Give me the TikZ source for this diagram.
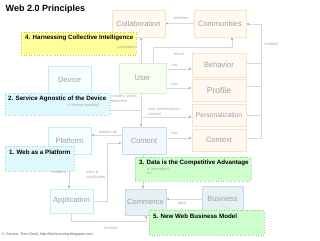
\documentclass[tikz,border=0pt]{standalone}
\usepackage{fontspec}
\setmainfont{Liberation Sans}
\usetikzlibrary{arrows.meta}
\definecolor{boxtext}{HTML}{A0A0A0}
\definecolor{orgfill}{HTML}{FFF9F2}
\definecolor{orgdraw}{HTML}{FBE0C4}
\definecolor{grnfill}{HTML}{F6FFF2}
\definecolor{grndraw}{HTML}{DCEFD4}
\definecolor{cyfill}{HTML}{F5FFFF}
\definecolor{cydraw}{HTML}{C5ECEF}
\definecolor{blfill}{HTML}{F2F8FF}
\definecolor{bldraw}{HTML}{C5DCF2}
\definecolor{tlfill}{HTML}{E6F0F3}
\definecolor{tldraw}{HTML}{C3DDF0}
\definecolor{linecol}{HTML}{D8D8D8}
\definecolor{arrowcol}{HTML}{A8A8A8}
\definecolor{lblcol}{HTML}{A8A8A8}
\definecolor{yelfill}{HTML}{FFFF99}
\definecolor{yeldraw}{HTML}{C8C860}
\definecolor{cyafill}{HTML}{DFF9FF}
\definecolor{cyadraw}{HTML}{9FD4E0}
\definecolor{gcfill}{HTML}{CCFFCC}
\definecolor{gcdraw}{HTML}{99CC99}
\pgfdeclarelayer{bg}
\pgfsetlayers{bg,main}
\begin{document}
\begin{tikzpicture}[x=1pt,y=-1pt,
  box/.style={draw, line width=0.8pt, inner sep=0pt, text=boxtext, font=\fontsize{7.5}{8}\selectfont, align=center},
  obox/.style={box, draw=orgdraw, fill=orgfill},
  gbox/.style={box, draw=grndraw, fill=grnfill},
  cbox/.style={box, draw=cydraw, fill=cyfill},
  bbox/.style={box, draw=bldraw, fill=blfill},
  tbox/.style={box, draw=tldraw, fill=tlfill},
  conn/.style={draw=linecol, line width=0.6pt},
  arr/.style={conn, -{Stealth[length=3pt,width=2.4pt,color=arrowcol]}},
  lbl/.style={font=\fontsize{4}{4.6}\selectfont, text=lblcol, inner sep=0pt, align=left},
  callout/.style={draw, dotted, line width=0.6pt, inner sep=0pt},
  ctext/.style={font=\bfseries\fontsize{6.2}{7}\selectfont, inner sep=0pt, anchor=west, text=black}
]
\useasboundingbox (0,0) rectangle (320,240);

\node[anchor=west, inner sep=0pt, font=\bfseries\fontsize{9}{10}\selectfont] (title) at (5.5,9) {Web 2.0 Principles};

% concept boxes
\node[obox, minimum width=53pt, minimum height=27pt] (collab) at (138.5,23.5) {Collaboration};
\node[obox, minimum width=52pt, minimum height=27pt] (comm) at (220,23.5) {Communities};
\node[obox, minimum width=54pt, minimum height=24pt] (behav) at (219,65) {Behavior};
\node[obox, minimum width=54pt, minimum height=22pt, font=\fontsize{8.5}{9}\selectfont] (profile) at (219,90) {Profile};
\node[obox, minimum width=54pt, minimum height=22pt, font=\fontsize{6.8}{7}\selectfont] (personal) at (219,115) {Personalization};
\node[obox, minimum width=54pt, minimum height=22pt] (context) at (219,140) {Context};
\node[gbox, minimum width=47pt, minimum height=30pt] (user) at (142.5,78) {User};
\node[cbox, minimum width=43pt, minimum height=27pt] (device) at (69.5,79.5) {Device};
\node[cbox, minimum width=43pt, minimum height=27pt] (platform) at (69.5,140.5) {Platform};
\node[bbox, minimum width=44pt, minimum height=27pt] (content) at (144,140.5) {Content};
\node[cbox, minimum width=43pt, minimum height=24pt] (application) at (71.5,201) {Application};
\node[tbox, minimum width=41pt, minimum height=26pt] (commerce) at (145.5,202) {Commerce};
\node[tbox, minimum width=41pt, minimum height=26pt] (business) at (222.5,199) {Business};

% connectors
\begin{pgfonlayer}{bg}
\draw[arr] (comm) -- (collab);
\draw[arr] (user.north -| 141,0) -- (collab.south -| 141,0);
\draw[arr] (user.north -| 153,0) -- (153,47) -- (232,47) -- (comm.south -| 232,0);
\draw[arr] (user.east |- 0,69) -- (behav.west |- 0,69);
\draw[arr] (user.east |- 0,88) -- (profile.west |- 0,88);
\draw[arr] (user.south -| 141,0) -- (content.north -| 141,0);
\draw[arr] (141,117) -- (personal.west |- 0,117);
\draw[conn] (device.south) -- (device.south |- 0,110) -- (141,110);
\draw[arr] (content.west |- 0,135) -- (platform.east |- 0,135);
\draw[arr] (application.east) -- (107,201) -- (107,143) -- (content.west |- 0,143);
\draw[arr] (platform.south -| 69,0) -- (application.north -| 69,0);
\draw[arr] (application.south -| 71,0) -- (71,221) -- (146,221) -- (commerce.south -| 146,0);
\draw[arr] (content.south -| 143,0) -- (commerce.north -| 143,0);
\draw[arr] (business.west |- 0,199) -- (commerce.east |- 0,199);
\draw[arr] (content.east |- 0,138) -- (context.west |- 0,138);
\draw[conn] (behav.east |- 0,63) -- (261,63);
\draw[conn] (profile.east |- 0,86) -- (261,86);
\draw[conn] (personal.east) -- (261,115);
\draw[arr] (context.east |- 0,138) -- (261,138) -- (261,24) -- (comm.east |- 0,24);
\end{pgfonlayer}

% callouts
\node[callout, fill=yelfill, draw=yeldraw, minimum width=115pt, minimum height=23pt] (c4) at (78.5,43.5) {};
\node[ctext] (t4) at (25,38) {4. Harnessing Collective Intelligence};
\node[callout, fill=cyafill, draw=cyadraw, minimum width=105pt, minimum height=22pt] (c2) at (57.5,104) {};
\node[ctext] (t2) at (8,99) {2. Service Agnostic of the Device};
\node[callout, fill=cyafill, draw=cyadraw, minimum width=69pt, minimum height=25pt] (c1) at (39.5,158.5) {};
\node[ctext] (t1) at (9,152.3) {1. Web as a Platform};
\node[callout, fill=gcfill, draw=gcdraw, minimum width=116pt, minimum height=24pt] (c3) at (193,169) {};
\node[ctext] (t3) at (139,163) {3. Data is the Competitive Advantage};
\node[callout, fill=gcfill, draw=gcdraw, minimum width=115pt, minimum height=25pt] (c5) at (206.5,222.5) {};
\node[ctext] (t5) at (153,216.5) {5. New Web Business Model};

% connector labels
\node[lbl] (l1) at (181,18) {enables};
\node[lbl, anchor=east] (l2) at (136,47) {participate};
\node[lbl] (l3) at (179,54) {forms};
\node[lbl] (l4) at (174.5,65) {has};
\node[lbl] (l5) at (174.5,84) {has};
\node[lbl, anchor=north west] (l6) at (148,107.5) {user personalizes\\content};
\node[lbl, anchor=north west] (l7) at (111,94.5) {creates, views,\\searches};
\node[lbl] (l8) at (83.5,105.5) {is device agnostic};
\node[lbl] (l9) at (108,132) {resides on};
\node[lbl, anchor=north west] (l10) at (86,171) {uses \&\\syndicates};
\node[lbl] (l11) at (58.5,172.5) {enables};
\node[lbl] (l12) at (111,228) {enables};
\node[lbl, anchor=north west] (l13) at (147,167) {is leveraged\\for};
\node[lbl] (l14) at (182,203.5) {drive};
\node[lbl] (l15) at (271.5,44) {enables};
\node[lbl] (l16) at (174.5,133) {has};

\node[anchor=west, inner sep=0pt, font=\fontsize{3.8}{4}\selectfont, text=black!60] (foot) at (2,234.5) {© Source: Ravi Gosil, http://bimlearning.blogspot.com};
\end{tikzpicture}
\end{document}
